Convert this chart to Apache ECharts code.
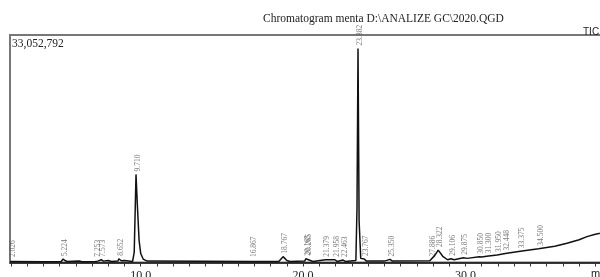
<!DOCTYPE html>
<html>
<head>
<meta charset="utf-8">
<script src="https://cdn.jsdelivr.net/npm/echarts@6/dist/echarts.min.js"></script>
<style>
  html, body { margin: 0; padding: 0; background: #fff; }
  #chart { width: 600px; height: 277px; }
</style>
</head>
<body>
<div id="chart"></div>
<script>
// retention time (min) and TIC intensity
const times = [1.95, 2.026, 2.1, 4.0, 5.1, 5.224, 5.35, 5.5, 6.2, 6.4, 7.2, 7.253, 7.35, 7.573, 7.7, 8.0, 8.2, 8.6, 8.652, 8.8, 9.0, 9.1, 9.5, 9.6, 9.71, 9.8, 9.9, 10.0, 10.15, 10.4, 10.5,
  16.8, 16.867, 17.0, 18.5, 18.767, 19.0, 19.2, 20.1, 20.165, 20.265, 20.45, 20.6, 21.379, 21.5, 21.958, 22.1, 22.463, 22.6,
  23.25, 23.32, 23.382, 23.45, 23.55, 23.767, 23.9, 25.0, 25.35, 25.5, 27.8, 27.886, 28.1, 28.322, 28.6, 28.9, 29.106, 29.3,
  29.875, 30.1, 30.85, 31.0, 31.3, 31.95, 32.448, 33.375, 34.5, 35.5, 36.25, 37.0, 37.48, 38.0, 38.9];
const intensity = [150000, 350000, 150000, 120000, 150000, 500000, 250000, 150000, 220000, 120000, 150000, 400000, 200000, 400000, 200000, 300000, 150000, 200000, 550000, 250000, 300000, 150000, 150000, 1500000, 12800000, 8000000, 3200000, 1300000, 500000, 200000, 150000,
  150000, 350000, 150000, 150000, 850000, 300000, 150000, 200000, 550000, 700000, 300000, 150000, 400000, 150000, 400000, 150000, 350000, 150000,
  300000, 8000000, 31100000, 6000000, 600000, 500000, 200000, 200000, 450000, 200000, 250000, 450000, 1000000, 1800000, 900000, 400000, 550000, 400000,
  700000, 600000, 850000, 800000, 900000, 1100000, 1300000, 1650000, 2000000, 2350000, 2800000, 3300000, 3760000, 4100000, 4600000];

// integrated peaks (label = retention time)
const peakTimes = [2.026, 5.224, 7.253, 7.573, 8.652, 9.71, 16.867, 18.767, 20.165, 20.265, 21.379, 21.958, 22.463, 23.382, 23.767, 25.35,
  27.886, 28.322, 29.106, 29.875, 30.85, 31.3, 31.95, 32.448, 33.375, 34.5];
const peakHeights = [350000, 500000, 400000, 400000, 550000, 12800000, 350000, 850000, 550000, 700000, 400000, 400000, 350000, 31100000, 500000, 450000,
  450000, 1800000, 550000, 700000, 850000, 900000, 1100000, 1300000, 1650000, 2000000];

const xMin = 1.95, xMax = 38.9;
const yMax = 33052792;
const minorTicks = [];
for (let t = 2; t <= 38; t++) minorTicks.push(t);
const majorLabels = [10, 20, 30];

const chart = echarts.init(document.getElementById('chart'));
chart.setOption({
  animation: false,
  title: [
    { text: 'Chromatogram menta D:\\ANALIZE GC\\2020.QGD', left: 258, top: 8,
      textStyle: { fontFamily: 'Liberation Serif', fontSize: 11.5, fontWeight: 'normal', color: '#222' } },
    { text: 'TIC', left: 578, top: 22,
      textStyle: { fontFamily: 'Liberation Sans', fontSize: 10, fontWeight: 'normal', color: '#222' } },
    { text: 'min', left: 586, top: 263,
      textStyle: { fontFamily: 'Liberation Sans', fontSize: 11, fontWeight: 'normal', color: '#222' } }
  ],
  grid: { left: 10, right: -10, top: 35, bottom: 14.5, outerBoundsMode: 'none',
    show: true, borderColor: '#777', borderWidth: 2 },
  xAxis: {
    type: 'value', min: xMin, max: xMax,
    splitLine: { show: false },
    axisLine: { onZero: false, lineStyle: { color: '#111', width: 1.5 } },
    axisTick: { customValues: minorTicks, length: 4, lineStyle: { color: '#333' } },
    axisLabel: { customValues: majorLabels, formatter: v => v.toFixed(1), margin: 7,
      fontFamily: 'Liberation Serif', fontSize: 12, color: '#222' }
  },
  yAxis: {
    type: 'value', min: 0, max: yMax,
    splitLine: { show: false },
    axisLine: { show: false },
    axisTick: { show: false },
    axisLabel: { inside: true, customValues: [yMax], formatter: v => v.toLocaleString('en-US'),
      verticalAlign: 'top', padding: [3, 0, 0, 0], margin: 2,
      fontFamily: 'Liberation Serif', fontSize: 11.5, color: '#222' }
  },
  series: [
    {
      type: 'line',
      data: times.map((t, i) => [t, intensity[i]]),
      showSymbol: false,
      lineStyle: { color: '#111', width: 1.5 }
    },
    {
      type: 'scatter',
      data: peakTimes.map((t, i) => [t, peakHeights[i]]),
      symbolSize: 0,
      label: {
        show: true, rotate: 90, align: 'left', verticalAlign: 'middle',
        position: [2, -3],
        formatter: p => p.value[0].toFixed(3),
        fontFamily: 'Liberation Serif', fontSize: 7.5, color: '#555'
      }
    }
  ]
});
</script>
</body>
</html>
